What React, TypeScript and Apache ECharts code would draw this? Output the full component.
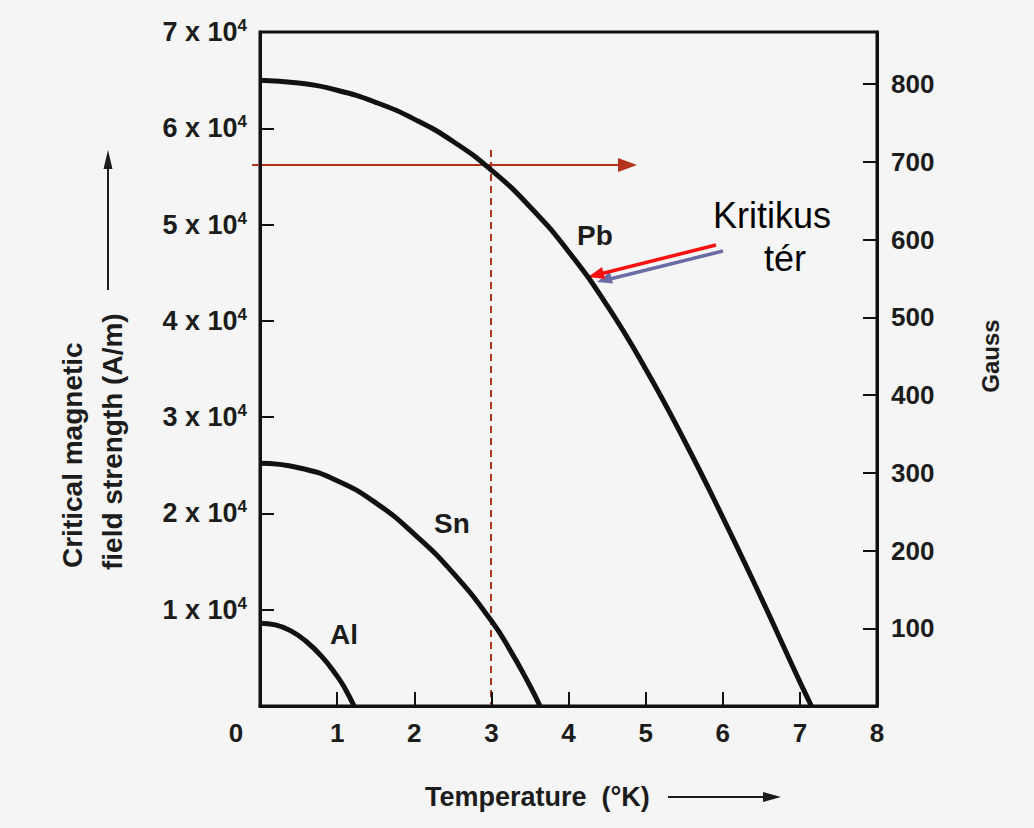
import React, { useEffect, useRef } from "react";
import * as echarts from "echarts";

// Temperature (K) vs critical magnetic field strength (A/m)
const pbCurve: [number, number][] = [
  [0, 65000], [0.5, 64700], [1.0, 63950], [1.5, 62700], [2.0, 60950],
  [2.5, 58650], [3.0, 55650], [3.5, 51850], [4.0, 47200], [4.5, 41600],
  [5.0, 35000], [5.5, 27600], [6.0, 19600], [6.5, 11200], [7.0, 2500],
  [7.15, 0],
];
const snCurve: [number, number][] = [
  [0, 25200], [0.5, 24750], [1.0, 23400], [1.5, 21100], [2.0, 17850],
  [2.5, 13850], [3.0, 8850], [3.25, 5700], [3.5, 2100], [3.63, 0],
];
const alCurve: [number, number][] = [
  [0, 8600], [0.2, 8420], [0.4, 7800], [0.6, 6700], [0.8, 5150],
  [1.0, 3100], [1.1, 1850], [1.22, 0],
];

const xRange = { min: 0, max: 8, interval: 1 };
const yLeftRange = { min: 0, max: 70000, interval: 10000 };
const yRightRange = { min: 0, max: 867, interval: 100 }; // Gauss
const curveNames = ["Pb", "Sn", "Al"];

const FONT = "'Liberation Sans', Arial, Helvetica, sans-serif";
const INK = "#1c1c1c";
const RED_DARK = "#b3341b";

export default function App() {
  const ref = useRef<HTMLDivElement>(null);

  useEffect(() => {
    if (!ref.current) return;
    const chart = echarts.init(ref.current, undefined, { renderer: "svg" });

    const curveSeries = [pbCurve, snCurve, alCurve].map((d, i) => ({
      name: curveNames[i],
      type: "line",
      data: d,
      smooth: 0.5,
      symbol: "none",
      xAxisIndex: 0,
      yAxisIndex: 0,
      lineStyle: { color: "#111", width: 5 },
      silent: true,
    }));

    const tickLabel = { fontFamily: FONT, fontSize: 26, fontWeight: "bold", color: INK };

    const option: any = {
      animation: false,
      backgroundColor: "#f5f5f5",
      grid: {
        left: 260,
        right: 157,
        top: 32,
        bottom: 122,
        show: true,
        borderColor: "#111",
        borderWidth: 3,
        backgroundColor: "transparent",
      },
      xAxis: {
        type: "value",
        ...xRange,
        axisLine: { show: true, lineStyle: { color: "#111", width: 3 } },
        axisTick: { show: true, inside: true, length: 14, lineStyle: { color: "#111", width: 2 } },
        splitLine: { show: false },
        axisLabel: {
          ...tickLabel,
          margin: 14,
          formatter: (v: number) => (v === 0 ? "{z|0}" : String(v)),
          rich: { z: { ...tickLabel, padding: [0, 48, 0, 0] } },
        },
      },
      yAxis: [
        {
          type: "value",
          position: "left",
          ...yLeftRange,
          axisLine: { show: true, lineStyle: { color: "#111", width: 3 } },
          axisTick: { show: true, inside: true, length: 14, lineStyle: { color: "#111", width: 2 } },
          splitLine: { show: false },
          axisLabel: {
            ...tickLabel,
            margin: 13,
            formatter: (v: number) => (v === 0 ? "" : `{a|${v / 10000} x 10}{s|4}`),
            rich: {
              a: { ...tickLabel, fontSize: 27, lineHeight: 30 },
              s: { fontFamily: FONT, fontWeight: "bold", fontSize: 17, color: INK, lineHeight: 17, verticalAlign: "top" },
            },
          },
        },
        {
          type: "value",
          position: "right",
          ...yRightRange,
          axisLine: { show: true, lineStyle: { color: "#111", width: 3 } },
          axisTick: { show: true, inside: true, length: 14, lineStyle: { color: "#111", width: 2 } },
          splitLine: { show: false },
          axisLabel: {
            ...tickLabel,
            margin: 14,
            formatter: (v: number) => (v > 0 && v % 100 === 0 ? String(v) : ""),
          },
        },
      ],
      series: curveSeries,
      graphic: [
        // curve labels
        { type: "text", x: 595, y: 235, style: { text: "Pb", font: `bold 28px ${FONT}`, fill: INK, align: "center", verticalAlign: "middle" } },
        { type: "text", x: 452, y: 523, style: { text: "Sn", font: `bold 28px ${FONT}`, fill: INK, align: "center", verticalAlign: "middle" } },
        { type: "text", x: 344, y: 634, style: { text: "Al", font: `bold 28px ${FONT}`, fill: INK, align: "center", verticalAlign: "middle" } },
        // left axis title
        { type: "text", x: 72, y: 568, rotation: Math.PI / 2, style: { text: "Critical magnetic", font: `bold 28px ${FONT}`, fill: INK, align: "left", verticalAlign: "middle" } },
        { type: "text", x: 112, y: 570, rotation: Math.PI / 2, style: { text: "field strength (A/m)", font: `bold 28px ${FONT}`, fill: INK, align: "left", verticalAlign: "middle" } },
        { type: "line", shape: { x1: 108, y1: 290, x2: 108, y2: 166 }, style: { stroke: INK, lineWidth: 2 } },
        { type: "polygon", shape: { points: [[108, 150], [103.5, 169], [112.5, 169]] }, style: { fill: INK } },
        // right axis title
        { type: "text", x: 990, y: 356, rotation: Math.PI / 2, style: { text: "Gauss", font: `bold 24px ${FONT}`, fill: INK, align: "center", verticalAlign: "middle" } },
        // bottom axis title
        { type: "text", x: 425, y: 797, style: { text: "Temperature  (°K)", font: `bold 27px ${FONT}`, fill: INK, align: "left", verticalAlign: "middle" } },
        { type: "line", shape: { x1: 668, y1: 797, x2: 766, y2: 797 }, style: { stroke: INK, lineWidth: 2 } },
        { type: "polygon", shape: { points: [[781, 797], [763, 792], [763, 802]] }, style: { fill: INK } },
        // red annotation at T = 3 K
        { type: "line", shape: { x1: 252, y1: 165, x2: 622, y2: 165 }, style: { stroke: RED_DARK, lineWidth: 2 } },
        { type: "polygon", shape: { points: [[637, 165], [618, 158], [618, 172]] }, style: { fill: RED_DARK } },
        { type: "line", shape: { x1: 491, y1: 150, x2: 491, y2: 706 }, style: { stroke: RED_DARK, lineWidth: 2, lineDash: [7, 5] } },
        // "Kritikus tér" arrow (shadow + red)
        { type: "line", shape: { x1: 723, y1: 251, x2: 610, y2: 279 }, style: { stroke: "#6b6ba6", lineWidth: 3.5 } },
        { type: "polygon", shape: { points: [[597, 282], [613, 283.5], [610, 272]] }, style: { fill: "#6b6ba6" } },
        { type: "line", shape: { x1: 716, y1: 245, x2: 602, y2: 273.5 }, style: { stroke: "#ff1010", lineWidth: 3.5 } },
        { type: "polygon", shape: { points: [[588, 277], [605, 279], [602, 267]] }, style: { fill: "#ff1010" } },
        { type: "text", x: 772, y: 215, style: { text: "Kritikus", font: `36px ${FONT}`, fill: "#000", align: "center", verticalAlign: "middle" } },
        { type: "text", x: 785, y: 258, style: { text: "tér", font: `36px ${FONT}`, fill: "#000", align: "center", verticalAlign: "middle" } },
      ],
    };

    chart.setOption(option);
    return () => chart.dispose();
  }, []);

  return (
    <div
      ref={ref}
      style={{ position: "fixed", left: 0, top: 0, width: 1034, height: 828 }}
    />
  );
}
